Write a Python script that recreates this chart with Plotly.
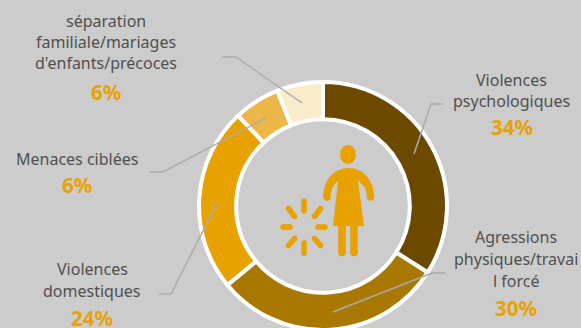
import plotly.graph_objects as go

W, H = 581, 334  # the ring runs a few pixels past the 328 px visible area

labels = ["Violences psychologiques", "Agressions physiques/travail forcé",
          "Violences domestiques", "Menaces ciblées",
          "séparation familiale/mariages d'enfants/précoces"]
values = [34, 30, 24, 6, 6]
colors = ["#6B4A00", "#A87800", "#E8A200", "#EDB748", "#FAEBCB"]

# Callout text: lines, percentage, centre x, y of each line, y of the percentage
callouts = [
    (["Violences", "psychologiques"], "34%", 511.5, [80, 101], 127.5),
    (["Agressions", "physiques/travai", "l forcé"], "30%", 516, [237, 259, 281], 307.5),
    (["Violences", "domestiques"], "24%", 92, [269, 291], 317.5),
    (["Menaces ciblées"], "6%", 77, [159], 185),
    (["séparation", "familiale/mariages", "d'enfants/précoces"], "6%", 105.5, [22, 43, 64], 92),
]

leaders = [
    [(443, 104), (431, 104), (414, 154)],
    [(445, 273), (432, 273), (333, 312)],
    [(159, 294), (171, 294), (217, 203)],
    [(150, 172), (163, 172), (266, 118)],
    [(222, 57), (236, 57), (302, 103)],
]

ORANGE = "#E8A200"


def px(x):
    return x / W


def py(y):
    return 1 - y / H


def path(points):
    return "M" + " L".join(f"{px(x):.5f},{py(y):.5f}" for x, y in points)


def pt(x, y):
    return f"{px(x):.5f},{py(y):.5f}"


def dot(cx, cy, r):
    return dict(type="circle", xref="paper", yref="paper",
                x0=px(cx - r), x1=px(cx + r), y0=py(cy + r), y1=py(cy - r),
                fillcolor=ORANGE, line_width=0)


def capsule(x0, y0, x1, y1, width):
    # Stroke with rounded ends
    return [dict(type="line", xref="paper", yref="paper",
                 x0=px(x0), x1=px(x1), y0=py(y0), y1=py(y1),
                 line=dict(color=ORANGE, width=width)),
            dot(x0, y0, width / 2), dot(x1, y1, width / 2)]


fig = go.Figure(go.Pie(
    labels=labels, values=values, sort=False, direction="clockwise", rotation=0,
    hole=0.70, textinfo="none", hoverinfo="label+percent", showlegend=False,
    marker=dict(colors=colors, line=dict(color="white", width=4)),
    domain=dict(x=[px(199), px(447)], y=[py(330), py(82)]),
))

shapes = []
for pts in leaders:
    shapes.append(dict(type="path", xref="paper", yref="paper", path=path(pts),
                       line=dict(color="#ABABAB", width=1.5)))

# Figure icon: head, dress with arms, legs
shapes.append(dict(type="circle", xref="paper", yref="paper",
                   x0=px(340), x1=px(356), y0=py(164), y1=py(145),
                   fillcolor=ORANGE, line_width=0))
body = ("M" + pt(323.3, 197)
        + " C" + pt(323.3, 179) + " " + pt(335, 168) + " " + pt(348.5, 168)
        + " C" + pt(362, 168) + " " + pt(374, 179) + " " + pt(374, 197)
        + " L" + pt(367, 197)
        + " C" + pt(366.5, 189) + " " + pt(363, 184) + " " + pt(358, 181)
        + " L" + pt(364, 226) + " L" + pt(333, 226) + " L" + pt(338, 181)
        + " C" + pt(334, 184) + " " + pt(331, 189) + " " + pt(330.5, 197) + " Z")
shapes.append(dict(type="path", xref="paper", yref="paper", path=body,
                   fillcolor=ORANGE, line_width=0))
shapes += [dot(327, 197, 3.7), dot(370.5, 197, 3.7)]
for lx in (342, 354):
    shapes += capsule(lx, 225, lx, 252.5, 7.5)

# Burst of strokes beside the figure
for x0, y0, x1, y1 in [(304, 201, 304, 211), (304, 243, 304, 253),
                       (283, 227, 290, 227), (318, 227, 325, 227),
                       (288.5, 208.5, 294.5, 216.5), (320.5, 208.5, 314.5, 216.5),
                       (294.5, 238.5, 288.5, 245.5), (314.5, 238.5, 320.5, 245.5)]:
    shapes += capsule(x0, y0, x1, y1, 5.5)

annotations = []
for lines, pct, cx, ys, pct_y in callouts:
    for text, y in zip(lines, ys):
        annotations.append(dict(text=text, x=px(cx), y=py(y - 0.5), xref="paper", yref="paper",
                                showarrow=False, xanchor="center", yanchor="middle",
                                font=dict(family="Noto Sans", size=16, color="#505050")))
    annotations.append(dict(text=f"<b>{pct}</b>", x=px(cx), y=py(pct_y), xref="paper", yref="paper",
                            showarrow=False, xanchor="center", yanchor="middle",
                            font=dict(family="Noto Sans", size=20.5, color=ORANGE)))

fig.update_layout(width=W, height=H, margin=dict(l=0, r=0, t=0, b=0),
                  paper_bgcolor="#CCCCCC", plot_bgcolor="#CCCCCC",
                  shapes=shapes, annotations=annotations)
# The figure is taller than the window, so scrolling stays off
fig.write_html("out.html", config={"displayModeBar": False},
               post_script="document.documentElement.style.overflow='hidden';"
                           "document.body.style.overflow='hidden';")
